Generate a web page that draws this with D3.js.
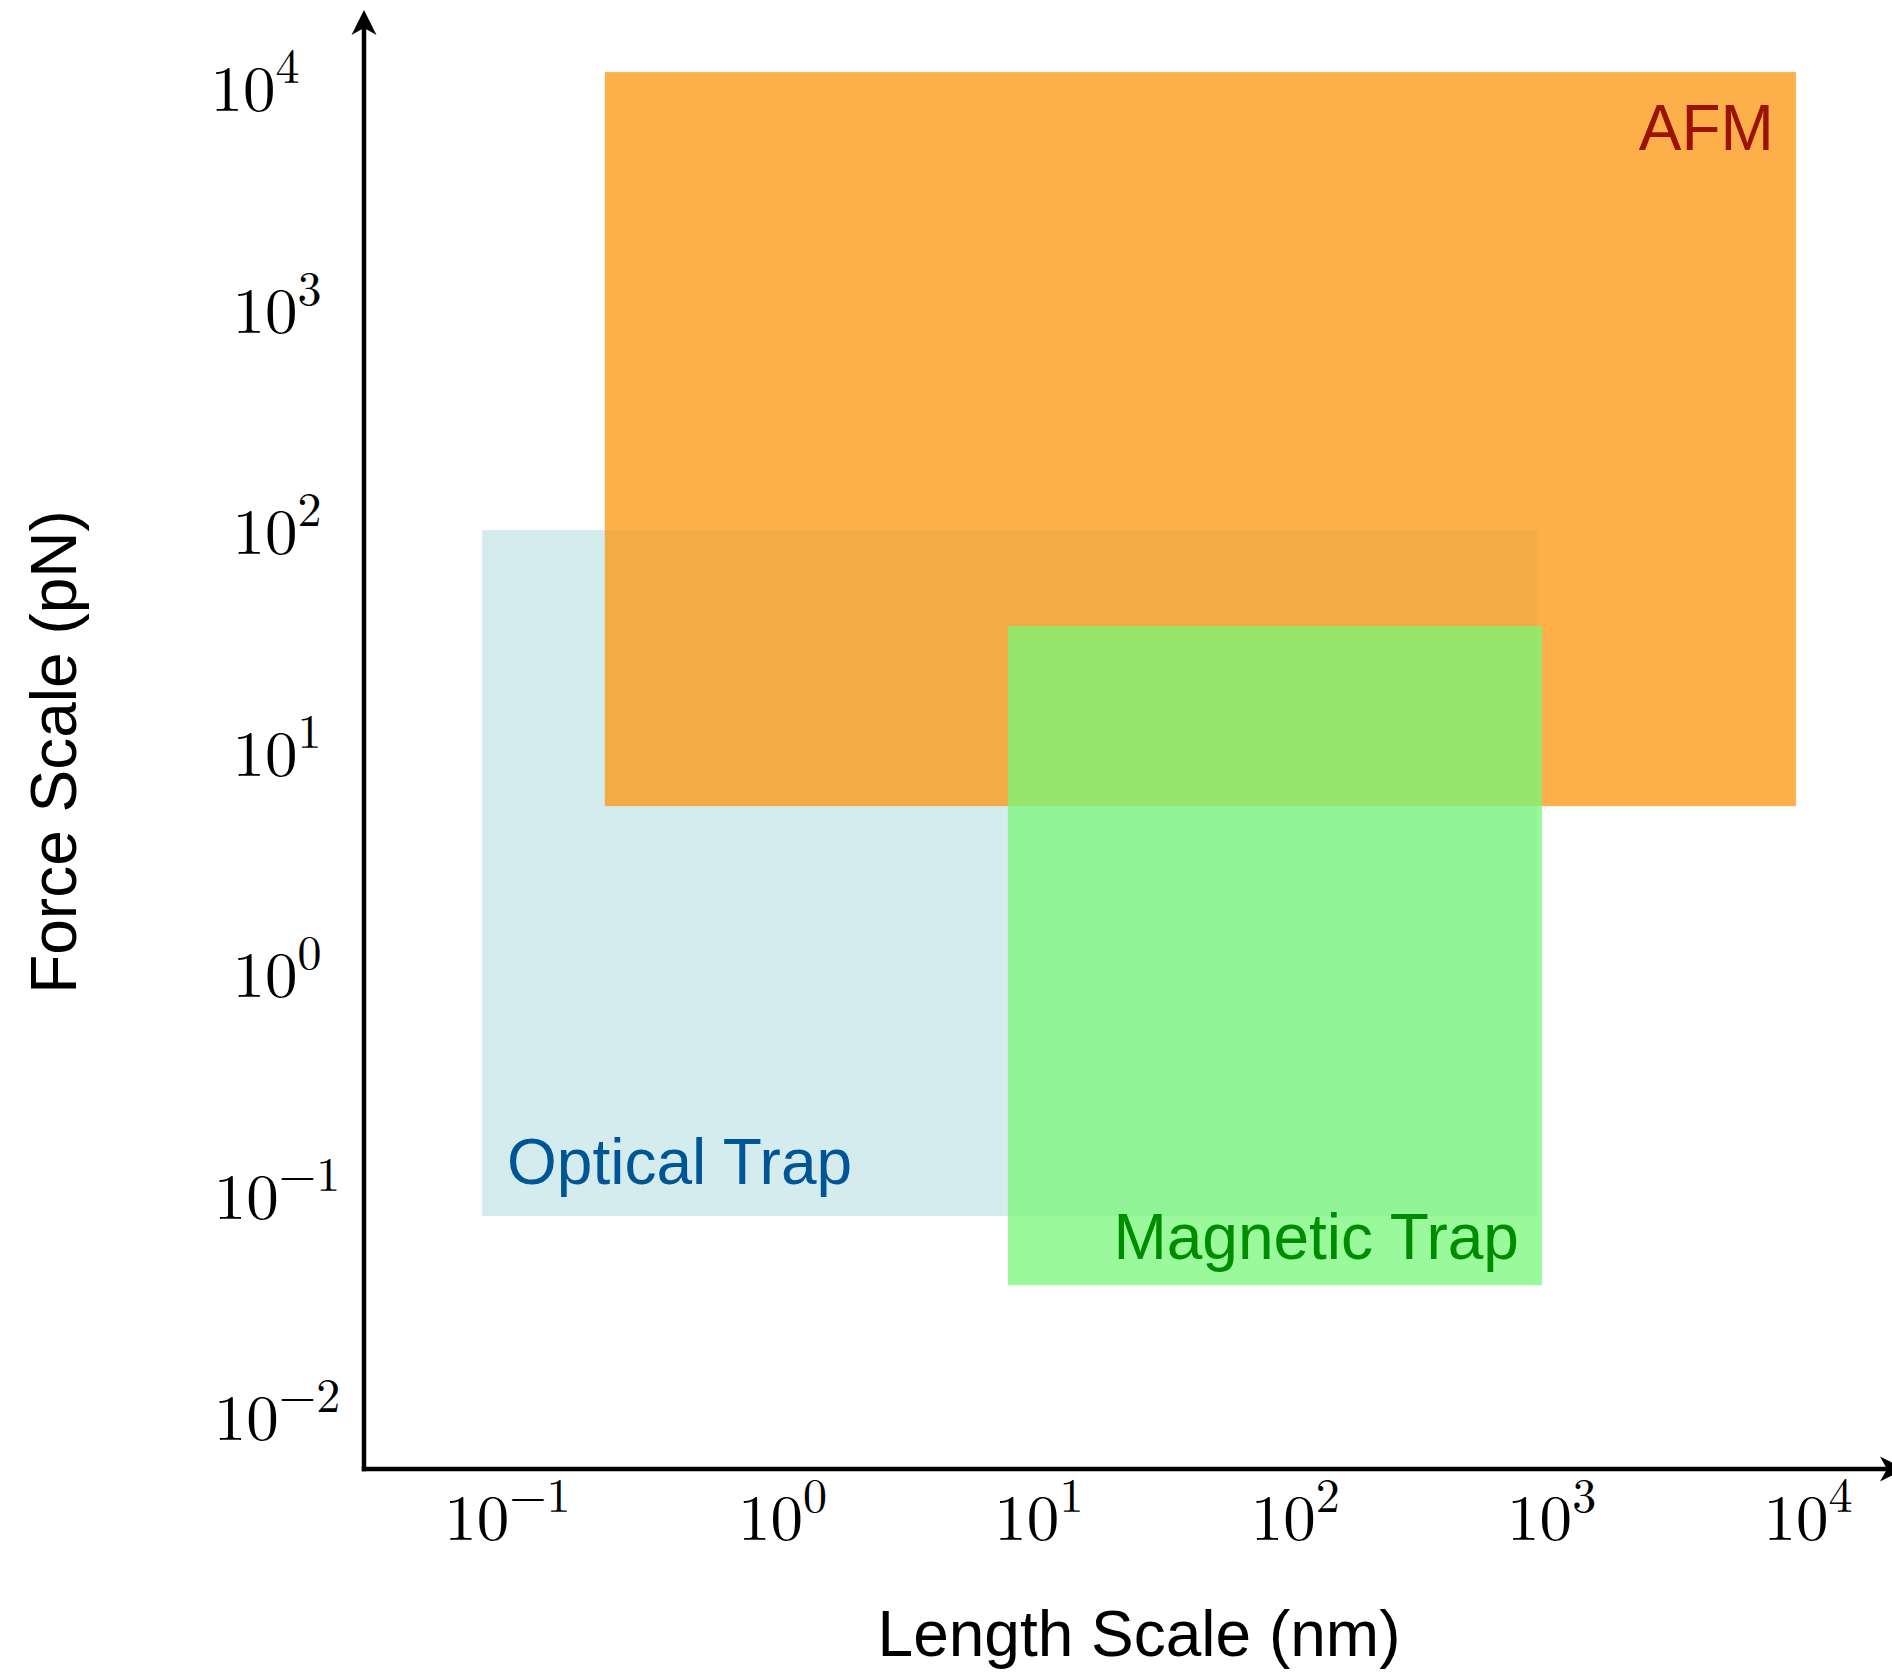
<!DOCTYPE html>
<html>
<head>
<meta charset="utf-8">
<script src="https://cdn.jsdelivr.net/npm/d3@7"></script>
<style>
  html, body { margin: 0; padding: 0; background: #fff; }
  svg { display: block; }
</style>
</head>
<body>
<svg id="chart" width="1892" height="1674"></svg>
<script>
// ---------- data ----------
const xTicks = [1e-1, 1e0, 1e1, 1e2, 1e3, 1e4];
const xTickExp = ["\u22121", "0", "1", "2", "3", "4"];
const yTicks = [1e-2, 1e-1, 1e0, 1e1, 1e2, 1e3, 1e4];
const yTickExp = ["\u22122", "\u22121", "0", "1", "2", "3", "4"];

const regionNames = ["Optical Trap", "AFM", "Magnetic Trap"];
const regionXMin = [0.0664, 0.2, 7.47];      // nm
const regionXMax = [864, 8850, 904];         // nm
const regionYMin = [0.0767, 5.44, 0.0374];   // pN
const regionYMax = [95.9, 11210, 35.4];      // pN

// axis extents (where the arrows end)
const xAxisExtent = [0.0230, 23570];
const yAxisExtent = [0.00553, 21380];

const xTitle = "Length Scale (nm)";
const yTitle = "Force Scale (pN)";

// ---------- styles ----------
const regionFill = ["#d5ecee", "rgb(252,150,14)", "rgb(120,247,120)"];
const regionOpacity = [1, 0.75, 0.75];
const labelColor = ["#005596", "#9b1200", "#008c00"];

const svg = d3.select("#chart");

const x = d3.scaleLog().domain(xAxisExtent).range([364, 1905]);
const y = d3.scaleLog().domain(yAxisExtent).range([1469, 10]);

// ---------- regions ----------
const regions = regionNames.map((name, i) => ({
  name, i,
  x0: regionXMin[i], x1: regionXMax[i],
  y0: regionYMin[i], y1: regionYMax[i]
}));

svg.append("g").selectAll("rect")
  .data(regions)
  .join("rect")
  .attr("x", d => x(d.x0))
  .attr("y", d => y(d.y1))
  .attr("width", d => x(d.x1) - x(d.x0))
  .attr("height", d => y(d.y0) - y(d.y1))
  .attr("fill", d => regionFill[d.i])
  .attr("fill-opacity", d => regionOpacity[d.i]);

// ---------- region labels ----------
const sans = "'Liberation Sans', Arial, Helvetica, sans-serif";
const lab = svg.append("g").attr("font-family", sans).attr("font-size", 64);

// Optical Trap: bottom-left
lab.append("text")
  .attr("x", x(regions[0].x0) + 25)
  .attr("y", y(regions[0].y0) - 32)
  .attr("fill", labelColor[0])
  .text(regions[0].name);
// AFM: top-right
lab.append("text")
  .attr("x", x(regions[1].x1) - 22)
  .attr("y", y(regions[1].y1) + 78)
  .attr("text-anchor", "end")
  .attr("fill", labelColor[1])
  .text(regions[1].name);
// Magnetic Trap: bottom-right
lab.append("text")
  .attr("x", x(regions[2].x1) - 23)
  .attr("y", y(regions[2].y0) - 26)
  .attr("text-anchor", "end")
  .attr("fill", labelColor[2])
  .text(regions[2].name);

// ---------- axes ----------
const axisG = svg.append("g");
const xAxis = d3.axisBottom(x).tickValues([]).tickSizeOuter(0);
const yAxis = d3.axisLeft(y).tickValues([]).tickSizeOuter(0);

const gx = axisG.append("g").attr("transform", `translate(0,${y(yAxisExtent[0])})`).call(xAxis);
gx.select(".domain").attr("d", `M${x(xAxisExtent[0]) - 2.25},0H${x(xAxisExtent[1]) - 12}`)
  .attr("stroke", "#000").attr("stroke-width", 4.5);
const gy = axisG.append("g").attr("transform", `translate(${x(xAxisExtent[0])},0)`).call(yAxis);
gy.select(".domain").attr("d", `M0,${y(yAxisExtent[0]) + 2.25}V${y(yAxisExtent[1]) + 12}`)
  .attr("stroke", "#000").attr("stroke-width", 4.5);

const arrow = "M0,0L12.5,25L0,18L-12.5,25Z";
axisG.append("path")
  .attr("d", arrow)
  .attr("transform", `translate(${x(xAxisExtent[0])},${y(yAxisExtent[1])})`)
  .attr("fill", "#000");
axisG.append("path")
  .attr("d", arrow)
  .attr("transform", `translate(${x(xAxisExtent[1])},${y(yAxisExtent[0])}) rotate(90)`)
  .attr("fill", "#000");

// ---------- tick labels ----------
const serif = "'Latin Modern Roman', 'CMU Serif', 'Liberation Serif', 'Times New Roman', serif";

const xl = svg.append("g").attr("font-family", serif).attr("font-size", 65).attr("fill", "#000");
xTicks.forEach((t, i) => {
  const tx = xl.append("text")
    .attr("x", x(t) + 43)
    .attr("y", 1540)
    .attr("text-anchor", "end");
  tx.append("tspan").text("10");
  tx.append("tspan").attr("font-size", 48).attr("dy", -28).text(xTickExp[i]);
});

const yl = svg.append("g").attr("font-family", serif).attr("font-size", 65).attr("fill", "#000");
yTicks.forEach((t, i) => {
  const cx = (t === 1e4) ? 255 : 277;
  const ty = yl.append("text")
    .attr("x", cx)
    .attr("y", y(t) + 28)
    .attr("text-anchor", "middle");
  ty.append("tspan").text("10");
  ty.append("tspan").attr("font-size", 48).attr("dy", -28).text(yTickExp[i]);
});

// ---------- axis titles ----------
svg.append("text")
  .attr("x", 1139)
  .attr("y", 1656)
  .attr("text-anchor", "middle")
  .attr("font-family", sans)
  .attr("font-size", 64)
  .attr("fill", "#000")
  .text(xTitle);

svg.append("text")
  .attr("transform", "translate(76,752) rotate(-90)")
  .attr("text-anchor", "middle")
  .attr("font-family", sans)
  .attr("font-size", 64)
  .attr("fill", "#000")
  .text(yTitle);
</script>
</body>
</html>
